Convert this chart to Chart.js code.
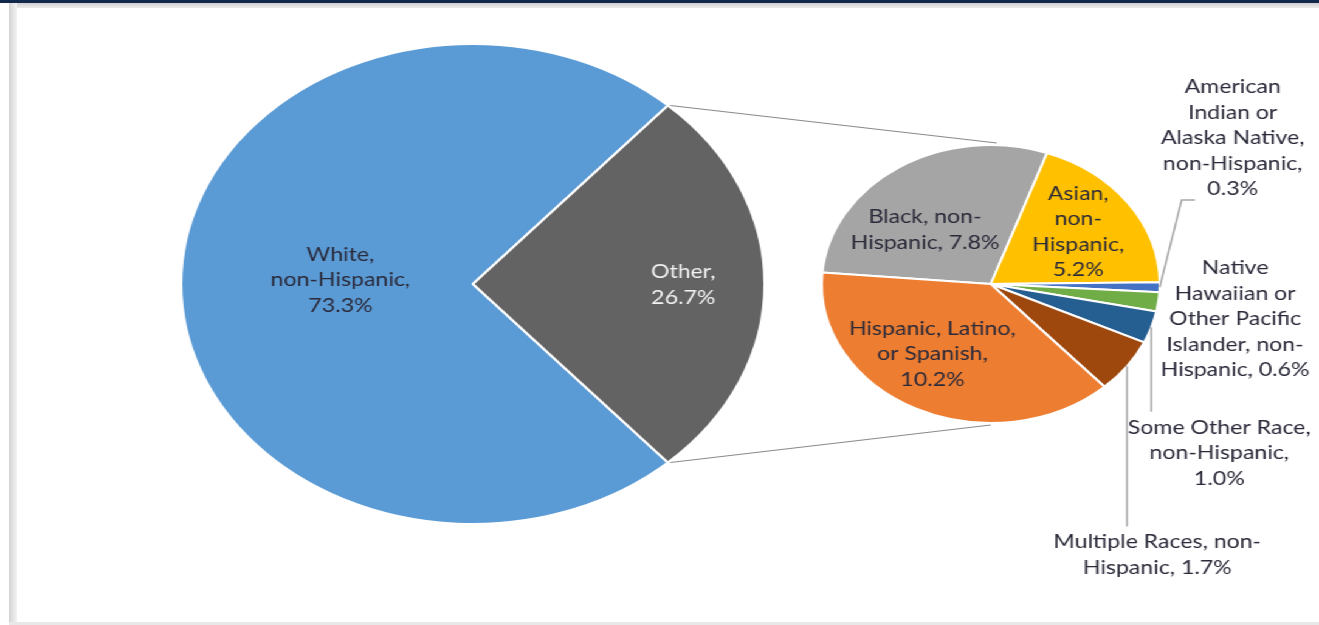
<!DOCTYPE html>
<html>
<head>
<meta charset="utf-8">
<script src="https://cdn.jsdelivr.net/npm/chart.js@4.4.1/dist/chart.umd.min.js"></script>
<style>
  html, body { margin: 0; padding: 0; background: #fff; }
  body { width: 1319px; height: 625px; overflow: hidden; position: relative; }
  #topbar { position: absolute; left: 0; top: 0; width: 1319px; height: 3px; background: #13294b; }
  #topshade { position: absolute; left: 12px; top: 3px; width: 1307px; height: 5px; background: linear-gradient(#cfcfcf, #ececec); }
  #leftedge { position: absolute; left: 9px; top: 3px; width: 8px; height: 622px; background: linear-gradient(90deg, #d2d2d2, #e4e4e4, #f3f3f3); }
  #bottomedge { position: absolute; left: 9px; top: 622px; width: 1310px; height: 3px; background: #e8e8e8; }
  /* the whole chart is stretched sideways like the source picture */
  #wrap { position: absolute; left: 0; top: 0; width: 1085px; height: 625px; transform: scaleX(1.21567); transform-origin: 0 0; }
  #wrap canvas { position: absolute; left: 0; top: 0; }
</style>
</head>
<body>
<div id="topbar"></div>
<div id="topshade"></div>
<div id="leftedge"></div>
<div id="bottomedge"></div>
<div id="wrap">
  <canvas id="mainPie" width="1085" height="625"></canvas>
  <canvas id="subPie" width="1085" height="625"></canvas>
</div>
<script>
// Основная диаграмма
const mainCategories = ['White,\nnon-Hispanic', 'Other'];
const mainValues = [73.3, 26.7];
const mainColors = ['#5B9BD5', '#636363'];

// Вторичная диаграмма (разбивка "Other")
const subCategories = [
    'Black, non-\nHispanic',
    'Asian,\nnon-\nHispanic',
    'American\nIndian or\nAlaska Native,\nnon-Hispanic',
    'Native\nHawaiian or\nOther Pacific\nIslander, non-\nHispanic',
    'Some Other Race,\nnon-Hispanic',
    'Multiple Races, non-\nHispanic',
    'Hispanic, Latino,\nor Spanish'
];
const subValues = [7.8, 5.2, 0.3, 0.6, 1.0, 1.7, 10.2];
const subColors = ['#A5A5A5', '#FFC000', '#4472C4', '#70AD47', '#255E91', '#9E480E', '#ED7D31'];

const FONT = '19px Lato';
const LINE = 25.5;
const DARK = '#2a2a3a';

// где ставить подписи: смещение от центра круга
const mainSpots = [
    { dx: -109, dy: -4, sep: '\n' },
    { dx: 173, dy: 1, sep: '\n', color: '#f2f2f2' }
];
const subSpots = [
    { dx: -54, dy: -54, sep: ' ' },
    { dx: 72, dy: -52, sep: '\n' },
    { dx: 199, dy: -146, sep: '\n', leader: 'elbow', elbow: [-42, 62], end: [-31, 62] },
    { dx: 201, dy: 35, sep: ' ' },
    { dx: 188, dy: 169, sep: '\n', leader: 'down' },
    { dx: 137, dy: 271, sep: ' ', leader: 'down' },
    { dx: -48, dy: 70, sep: '\n' }
];

function edgePoint(arc, angle) {
    return { x: arc.x + Math.cos(angle) * arc.outerRadius, y: arc.y + Math.sin(angle) * arc.outerRadius };
}

function makeLabels(spots) {
    return {
        id: 'sliceLabels',
        afterDatasetsDraw(chart) {
            const ctx = chart.ctx;
            const arcs = chart.getDatasetMeta(0).data;
            const values = chart.data.datasets[0].data;
            ctx.save();
            ctx.font = FONT;
            ctx.textAlign = 'center';
            ctx.textBaseline = 'middle';
            arcs.forEach((arc, i) => {
                const spot = spots[i];
                const text = chart.data.labels[i] + ',' + spot.sep + values[i].toFixed(1) + '%';
                const lines = text.split('\n');
                const cx = arc.x + spot.dx;
                const cy = arc.y + spot.dy;
                const top = cy - lines.length * LINE / 2;

                if (spot.leader) {
                    const p = edgePoint(arc, (arc.startAngle + arc.endAngle) / 2);
                    ctx.strokeStyle = '#a6a6a6';
                    ctx.lineWidth = 1.5;
                    ctx.beginPath();
                    ctx.moveTo(p.x, p.y);
                    if (spot.leader === 'down') {
                        ctx.lineTo(p.x, top - 3);
                    } else {
                        ctx.lineTo(cx + spot.elbow[0], cy + spot.elbow[1]);
                        ctx.lineTo(cx + spot.end[0], cy + spot.end[1]);
                    }
                    ctx.stroke();
                }

                ctx.fillStyle = spot.color || DARK;
                lines.forEach((l, k) => ctx.fillText(l, cx, top + LINE * (k + 0.5)));
            });
            ctx.restore();
        }
    };
}

// "Other" центрирован на 3 часа, как в Excel
const mainTotal = mainValues.reduce((a, b) => a + b, 0);
const otherSpan = mainValues[1] / mainTotal * 360;
const mainRotation = 90 - otherSpan / 2 - mainValues[0] / mainTotal * 360;

const mainChart = new Chart(document.getElementById('mainPie'), {
    type: 'pie',
    data: {
        labels: mainCategories,
        datasets: [{
            data: mainValues,
            backgroundColor: mainColors,
            borderColor: '#ffffff',
            borderWidth: 2,
            radius: 240
        }]
    },
    options: {
        responsive: false,
        animation: false,
        rotation: mainRotation,
        layout: { padding: { left: 0, right: 307, top: 0, bottom: 57 } },
        plugins: {
            legend: { display: false },
            tooltip: { enabled: false }
        }
    },
    plugins: [makeLabels(mainSpots)]
});

// линии от "Other" к вторичному кругу
const connectors = {
    id: 'connectors',
    afterDatasetsDraw(chart) {
        const other = mainChart.getDatasetMeta(0).data[1];
        const sub = chart.getDatasetMeta(0).data[0];
        const r = sub.outerRadius;
        const a = edgePoint(other, other.startAngle);
        const b = edgePoint(other, other.endAngle);
        const ctx = chart.ctx;
        ctx.save();
        ctx.strokeStyle = '#8a8a8a';
        ctx.lineWidth = 1.2;
        ctx.beginPath();
        ctx.moveTo(a.x + 2, a.y);
        ctx.lineTo(sub.x + 5, sub.y - r - 2);
        ctx.moveTo(b.x + 2, b.y);
        ctx.lineTo(sub.x, sub.y + r + 2);
        ctx.stroke();
        ctx.restore();
    }
};

const subChart = new Chart(document.getElementById('subPie'), {
    type: 'pie',
    data: {
        labels: subCategories,
        datasets: [{
            data: subValues,
            backgroundColor: subColors,
            borderColor: '#ffffff',
            borderWidth: 2,
            radius: 139
        }]
    },
    options: {
        responsive: false,
        animation: false,
        rotation: -85.3,
        layout: { padding: { left: 545, right: 0, top: 0, bottom: 57 } },
        plugins: {
            legend: { display: false },
            tooltip: { enabled: false }
        }
    },
    plugins: [connectors, makeLabels(subSpots)]
});
</script>
</body>
</html>
